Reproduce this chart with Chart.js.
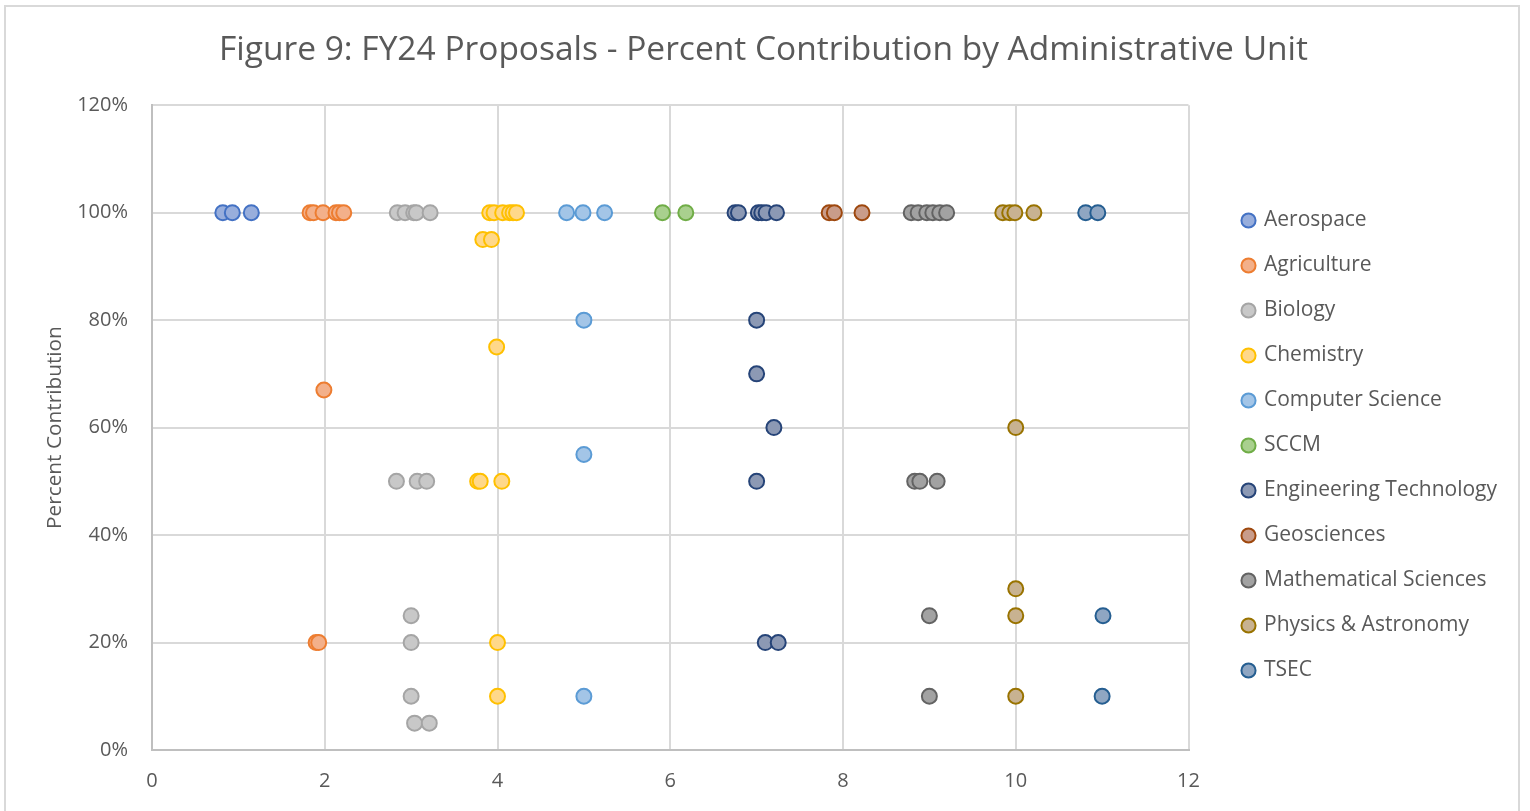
<!DOCTYPE html>
<html>
<head>
<meta charset="utf-8">
<script src="https://cdn.jsdelivr.net/npm/chart.js@4.4.1/dist/chart.umd.min.js"></script>
<style>
  html, body { margin: 0; padding: 0; background: #fff; overflow: hidden; }
  #wrap { position: relative; width: 1530px; height: 811px; }
  #frame { position: absolute; left: 4px; top: 5px; width: 1516px; height: 820px; border: 2px solid #d9d9d9; box-sizing: border-box; pointer-events: none; }
  canvas { position: absolute; left: 0; top: 0; }
</style>
</head>
<body>
<div id="wrap">
  <canvas id="c" width="1530" height="811"></canvas>
  <div id="frame"></div>
</div>
<script>
const title = 'Figure 9: FY24 Proposals - Percent Contribution by Administrative Unit';
const units = ['Aerospace', 'Agriculture', 'Biology', 'Chemistry', 'Computer Science', 'SCCM',
  'Engineering Technology', 'Geosciences', 'Mathematical Sciences', 'Physics & Astronomy', 'TSEC'];

// x = jittered unit index, y = percent contribution
const aerospaceX = [0.82, 0.93, 1.15];
const aerospaceY = [100, 100, 100];
const agricultureX = [1.83, 1.87, 1.98, 2.13, 2.17, 2.22, 1.99, 1.90, 1.93];
const agricultureY = [100, 100, 100, 100, 100, 100, 67, 20, 20];
const biologyX = [2.84, 2.93, 3.03, 3.06, 3.22, 2.83, 3.07, 3.18, 3.0, 3.0, 3.0, 3.04, 3.21];
const biologyY = [100, 100, 100, 100, 100, 50, 50, 50, 25, 20, 10, 5, 5];
const chemistryX = [3.91, 3.96, 4.06, 4.14, 4.18, 4.22, 3.83, 3.93, 3.99, 3.77, 3.80, 4.05, 4.0, 4.0];
const chemistryY = [100, 100, 100, 100, 100, 100, 95, 95, 75, 50, 50, 50, 20, 10];
const compSciX = [4.80, 4.99, 5.24, 5.0, 5.0, 5.0];
const compSciY = [100, 100, 100, 80, 55, 10];
const sccmX = [5.91, 6.18];
const sccmY = [100, 100];
const engTechX = [6.75, 6.79, 7.02, 7.06, 7.11, 7.23, 7.0, 7.0, 7.2, 7.0, 7.1, 7.25];
const engTechY = [100, 100, 100, 100, 100, 100, 80, 70, 60, 50, 20, 20];
const geoX = [7.84, 7.90, 8.22];
const geoY = [100, 100, 100];
const mathX = [8.79, 8.87, 8.97, 9.04, 9.12, 9.20, 8.83, 8.89, 9.09, 9.0, 9.0];
const mathY = [100, 100, 100, 100, 100, 100, 50, 50, 50, 25, 10];
const physX = [9.85, 9.93, 9.99, 10.21, 10.0, 10.0, 10.0, 10.0];
const physY = [100, 100, 100, 100, 60, 30, 25, 10];
const tsecX = [10.81, 10.95, 11.01, 11.0];
const tsecY = [100, 100, 25, 10];

const xTicks = [0, 2, 4, 6, 8, 10, 12];
const yTicks = [0, 20, 40, 60, 80, 100, 120];

const borderColors = ['#4472C4', '#ED7D31', '#A5A5A5', '#FFC000', '#5B9BD5', '#70AD47',
  '#264478', '#9E480E', '#636363', '#997300', '#255E91'];
const fillColors = ['#98AEDC', '#F3B08A', '#C8C8C8', '#FFD88A', '#A3C5E7', '#A9D08E',
  '#8C99B4', '#C99C8A', '#A2A2A2', '#C8B291', '#8FA6C2'];

const xs = [aerospaceX, agricultureX, biologyX, chemistryX, compSciX, sccmX, engTechX, geoX, mathX, physX, tsecX];
const ys = [aerospaceY, agricultureY, biologyY, chemistryY, compSciY, sccmY, engTechY, geoY, mathY, physY, tsecY];

const datasets = units.map((u, i) => ({
  label: u,
  data: xs[i].map((x, j) => ({ x: x, y: ys[i][j] })),
  backgroundColor: fillColors[i],
  borderColor: borderColors[i],
  pointRadius: 7.5,
  pointHoverRadius: 7.5,
  pointBorderWidth: 2,
  pointStyle: 'circle'
}));

const FONT = 'Open Sans';
const grey = '#595959';

new Chart(document.getElementById('c'), {
  type: 'scatter',
  data: { datasets },
  options: {
    responsive: false,
    animation: false,
    layout: { padding: { left: 20, right: 23, top: 30, bottom: 18 } },
    plugins: {
      title: {
        display: true,
        text: title,
        color: grey,
        font: { family: FONT, size: 33.5, weight: 'normal' },
        padding: { top: 0, bottom: 35 }
      },
      legend: {
        position: 'right',
        maxWidth: 300,
        title: { display: true, text: '', font: { family: FONT, size: 20 }, padding: { top: 22, bottom: 22 } },
        labels: {
          usePointStyle: true,
          pointStyle: 'circle',
          boxWidth: 10,
          boxHeight: 10,
          padding: 24,
          color: grey,
          font: { family: FONT, size: 21 },
          generateLabels(chart) {
            return chart.data.datasets.map((d, i) => ({
              text: d.label,
              fillStyle: d.backgroundColor,
              strokeStyle: d.borderColor,
              lineWidth: 2,
              pointStyle: 'circle',
              hidden: false,
              datasetIndex: i,
              fontColor: grey
            }));
          }
        }
      },
      tooltip: { enabled: false }
    },
    scales: {
      x: {
        type: 'linear',
        min: 0, max: 12,
        afterBuildTicks(axis) { axis.ticks = xTicks.map(v => ({ value: v })); },
        afterFit(axis) { axis.height = 43; },
        ticks: { color: grey, font: { family: FONT, size: 20 }, padding: 19 },
        grid: { color: '#D9D9D9', lineWidth: 2, drawTicks: false },
        border: { display: true, color: '#BFBFBF', width: 2 }
      },
      y: {
        type: 'linear',
        min: 0, max: 120,
        afterBuildTicks(axis) { axis.ticks = yTicks.map(v => ({ value: v })); },
        afterFit(axis) { axis.width = 132; },
        ticks: { color: grey, font: { family: FONT, size: 20 }, padding: 24, callback: v => v + '%' },
        grid: { color: '#D9D9D9', lineWidth: 2, drawTicks: false },
        border: { display: true, color: '#BFBFBF', width: 2 },
        title: { display: true, text: 'Percent Contribution', color: grey, font: { family: FONT, size: 20.8 }, padding: { top: 22.5, bottom: 4 } }
      },
      gap: {
        type: 'linear',
        position: 'right',
        display: true,
        grid: { display: false, drawTicks: false },
        border: { display: false },
        ticks: { display: false },
        afterFit(axis) { axis.width = 31; }
      }
    }
  }
});
</script>
</body>
</html>
